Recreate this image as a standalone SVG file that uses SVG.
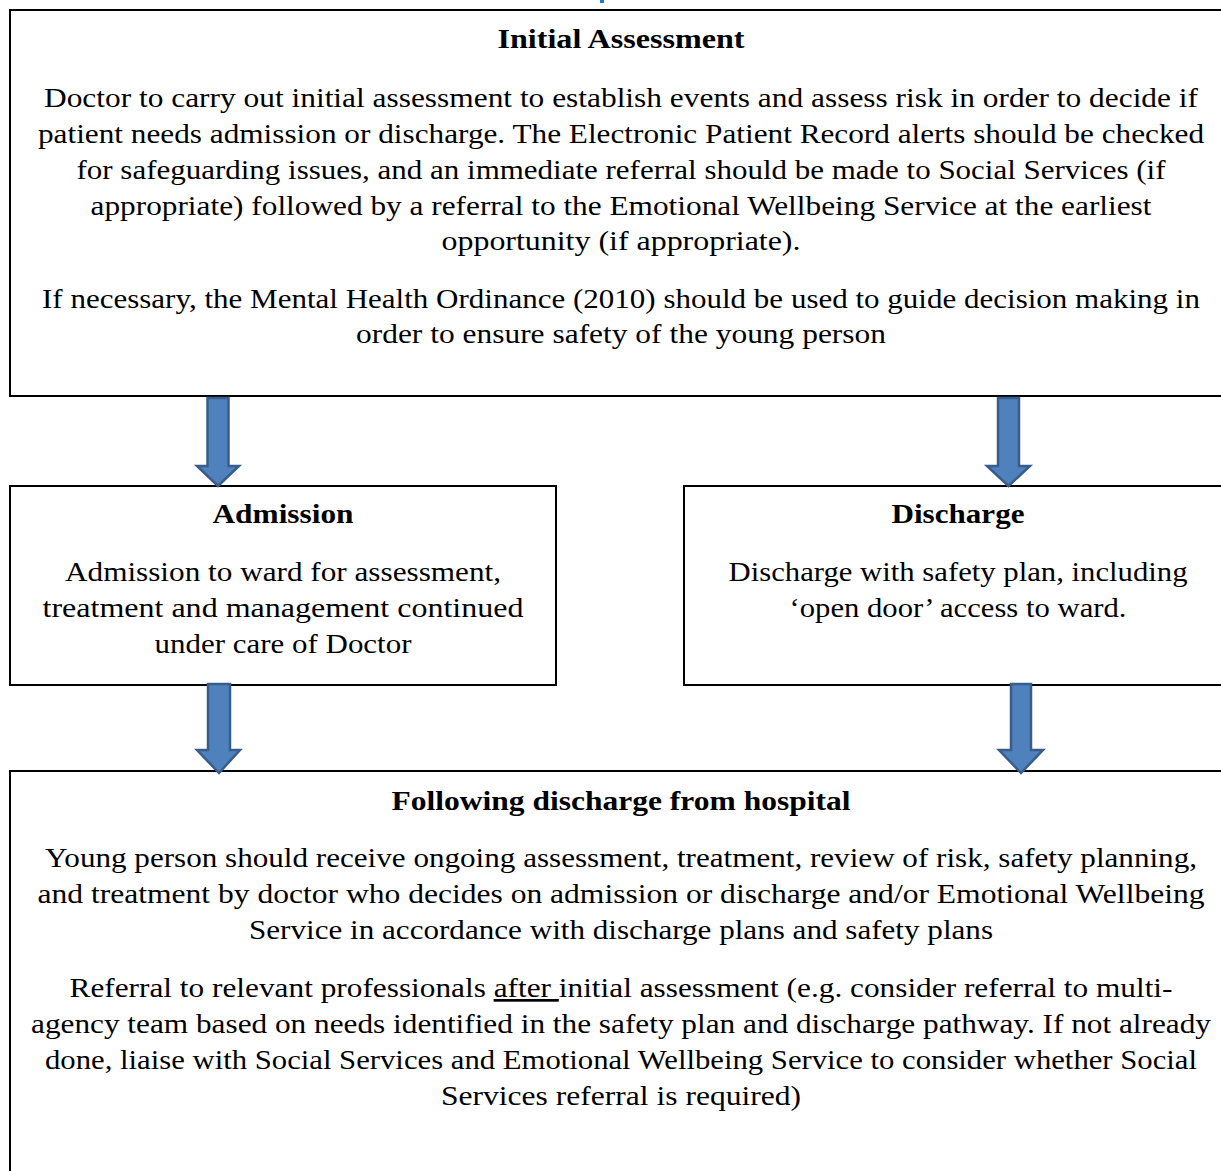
<svg xmlns="http://www.w3.org/2000/svg" width="1221" height="1171" viewBox="0 0 1221 1171">
<style>
.box{fill:#fff;stroke:#000;stroke-width:2}
.t{font-family:"Liberation Serif","DejaVu Serif",serif;font-size:27px;fill:#000;text-anchor:middle}
.h{font-weight:bold}
.arr{fill:#4F81BD;stroke:#385D8A;stroke-width:2.5;stroke-linejoin:miter}
</style>
<rect width="1221" height="1171" fill="#fff"/>
<rect x="600" y="0" width="4" height="3" fill="#1F78C8"/>
<g id="initial-assessment">
<rect class="box" x="10" y="10" width="1230" height="386"/>
<text class="t h" x="621" y="48" textLength="247" lengthAdjust="spacingAndGlyphs">Initial Assessment</text>
<text class="t" x="621" y="107" textLength="1154" lengthAdjust="spacingAndGlyphs">Doctor to carry out initial assessment to establish events and assess risk in order to decide if</text>
<text class="t" x="621" y="143" textLength="1166" lengthAdjust="spacingAndGlyphs">patient needs admission or discharge. The Electronic Patient Record alerts should be checked</text>
<text class="t" x="621" y="179" textLength="1089" lengthAdjust="spacingAndGlyphs">for safeguarding issues, and an immediate referral should be made to Social Services (if</text>
<text class="t" x="621" y="215" textLength="1061" lengthAdjust="spacingAndGlyphs">appropriate) followed by a referral to the Emotional Wellbeing Service at the earliest</text>
<text class="t" x="621" y="250" textLength="359" lengthAdjust="spacingAndGlyphs">opportunity (if appropriate).</text>
<text class="t" x="621" y="308" textLength="1158" lengthAdjust="spacingAndGlyphs">If necessary, the Mental Health Ordinance (2010) should be used to guide decision making in</text>
<text class="t" x="621" y="343" textLength="530" lengthAdjust="spacingAndGlyphs">order to ensure safety of the young person</text>
</g>
<g id="admission">
<rect class="box" x="10" y="486" width="546" height="199"/>
<text class="t h" x="283" y="523" textLength="141" lengthAdjust="spacingAndGlyphs">Admission</text>
<text class="t" x="283" y="581" textLength="436" lengthAdjust="spacingAndGlyphs">Admission to ward for assessment,</text>
<text class="t" x="283" y="617" textLength="481" lengthAdjust="spacingAndGlyphs">treatment and management continued</text>
<text class="t" x="283" y="653" textLength="257" lengthAdjust="spacingAndGlyphs">under care of Doctor</text>
</g>
<g id="discharge">
<rect class="box" x="684" y="486" width="600" height="199"/>
<text class="t h" x="958" y="523" textLength="133" lengthAdjust="spacingAndGlyphs">Discharge</text>
<text class="t" x="958" y="581" textLength="459" lengthAdjust="spacingAndGlyphs">Discharge with safety plan, including</text>
<text class="t" x="958" y="617" textLength="337" lengthAdjust="spacingAndGlyphs">‘open door’ access to ward.</text>
</g>
<g id="following-discharge">
<rect class="box" x="10" y="771" width="1230" height="420"/>
<text class="t h" x="621" y="810" textLength="459" lengthAdjust="spacingAndGlyphs">Following discharge from hospital</text>
<text class="t" x="621" y="867" textLength="1152" lengthAdjust="spacingAndGlyphs">Young person should receive ongoing assessment, treatment, review of risk, safety planning,</text>
<text class="t" x="621" y="903" textLength="1167" lengthAdjust="spacingAndGlyphs">and treatment by doctor who decides on admission or discharge and/or Emotional Wellbeing</text>
<text class="t" x="621" y="939" textLength="744" lengthAdjust="spacingAndGlyphs">Service in accordance with discharge plans and safety plans</text>
<text class="t" x="621" y="997" textLength="1103" lengthAdjust="spacingAndGlyphs">Referral to relevant professionals <tspan style="text-decoration:underline">after </tspan>initial assessment (e.g. consider referral to multi-</text>
<text class="t" x="621" y="1033" textLength="1180" lengthAdjust="spacingAndGlyphs">agency team based on needs identified in the safety plan and discharge pathway. If not already</text>
<text class="t" x="621" y="1069" textLength="1152" lengthAdjust="spacingAndGlyphs">done, liaise with Social Services and Emotional Wellbeing Service to consider whether Social</text>
<text class="t" x="621" y="1105" textLength="360" lengthAdjust="spacingAndGlyphs">Services referral is required)</text>
</g>
<g id="connectors">
<path class="arr" d="M207.5,398 H228.5 V466 H239 L218,486 L197,466 H207.5 Z"/>
<path class="arr" d="M998,398 H1019 V466 H1030 L1008.5,486 L987,466 H998 Z"/>
<path class="arr" d="M208,684 H230 V750 H240 L219,773 L197,750 H208 Z"/>
<path class="arr" d="M1011,684 H1031 V750 H1043 L1021,773 L999,750 H1011 Z"/>
</g>
</svg>
